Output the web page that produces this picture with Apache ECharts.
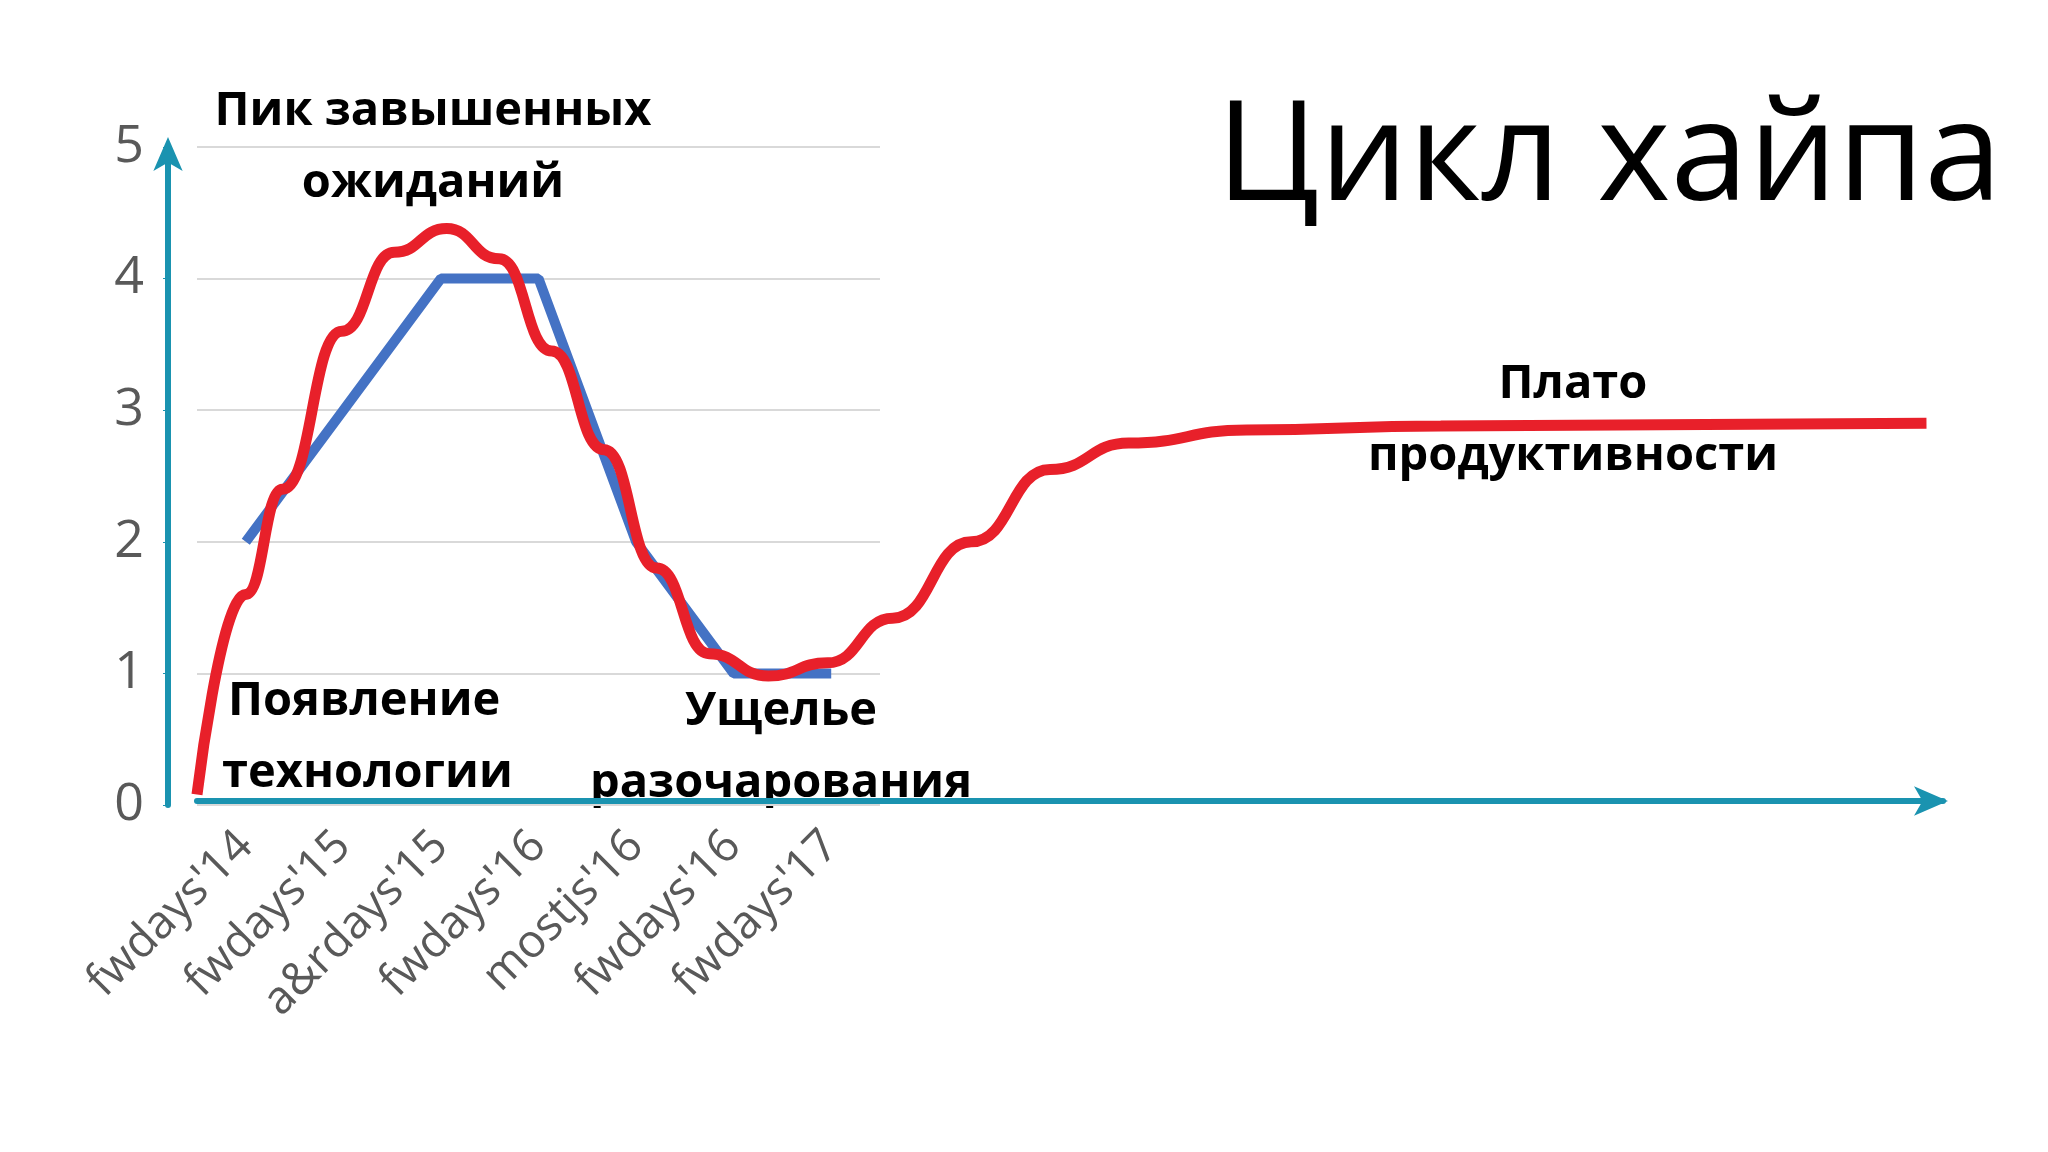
<!DOCTYPE html>
<html>
<head>
<meta charset="utf-8">
<script src="https://cdn.jsdelivr.net/npm/echarts@6/dist/echarts.min.js"></script>
<style>html,body{margin:0;background:#fff}#main{width:2048px;height:1152px}</style>
</head>
<body>
<div id="main"></div>
<script>
var categories = ["fwdays'14", "fwdays'15", "a&rdays'15", "fwdays'16", "mostjs'16", "fwdays'16", "fwdays'17"];
var talks = [2, 3, 4, 4, 2, 1, 1];
// кривая хайпа: x в единицах категорий
var hypeX = [-0.5, 0, 0.38, 0.99, 1.53, 2.07, 2.61, 3.15, 3.69, 4.23, 4.77, 5.38, 5.99, 6.66, 7.47, 8.28, 9.09, 10.3, 12.3, 17.3];
var hypeY = [0.08, 1.6, 2.4, 3.6, 4.2, 4.38, 4.15, 3.45, 2.7, 1.8, 1.15, 0.98, 1.08, 1.42, 2.0, 2.55, 2.75, 2.85, 2.88, 2.9];
var yTicks = [0, 1, 2, 3, 4, 5];

var hype = hypeX.map(function (x, i) { return [x, hypeY[i]]; });
var teal = '#1a93b0';
var txt = function (t, x, y, align, size) {
    return {type: 'text', x: x, y: y, style: {text: t, font: 'bold ' + (size || 47) + 'px "Open Sans", sans-serif', fill: '#000', textAlign: align || 'center', textVerticalAlign: 'middle'}};
};
var chart = echarts.init(document.getElementById('main'));
chart.setOption({
    animation: false,
    grid: [
        {left: 197, top: 147, width: 683, height: 658},
        {left: 197, top: 147, right: 105, height: 658}
    ],
    xAxis: [
        {type: 'category', gridIndex: 0, data: categories, boundaryGap: true,
            axisLine: {show: false}, axisTick: {show: false},
            axisLabel: {rotate: 45, color: '#595959', fontSize: 46, margin: 34, fontFamily: 'Open Sans'}},
        {type: 'value', gridIndex: 1, min: -0.5, max: 17.47, show: true,
            axisLine: {onZero: false, lineStyle: {color: teal, width: 6}, symbol: ['none', 'arrow'], symbolSize: [22, 34], symbolOffset: [0, 5]},
            axisTick: {show: false}, axisLabel: {show: false}, splitLine: {show: false}, offset: -4}
    ],
    yAxis: [
        {type: 'value', gridIndex: 0, min: 0, max: 5, interval: 1,
            axisLabel: {show: false}, axisLine: {show: false},
            splitLine: {lineStyle: {color: '#d9d9d9', width: 2}}},
        {type: 'value', gridIndex: 1, min: 0, max: 5, interval: 1, offset: 29,
            axisLine: {show: true, onZero: false, lineStyle: {color: teal, width: 6}, symbol: ['none', 'arrow'], symbolSize: [22, 34], symbolOffset: [0, 10]},
            axisLabel: {color: '#595959', fontSize: 52, margin: 24, fontFamily: 'Open Sans',
                formatter: function (v) { return yTicks.indexOf(v) >= 0 ? v : ''; }},
            splitLine: {show: false}}
    ],
    series: [
        {type: 'line', xAxisIndex: 0, yAxisIndex: 0, data: talks, symbol: 'none',
            lineStyle: {color: '#4472c4', width: 10}},
        {type: 'line', xAxisIndex: 1, yAxisIndex: 1, data: hype, smooth: true, smoothMonotone: 'x', symbol: 'none',
            lineStyle: {color: '#e8202a', width: 11}}
    ],
    graphic: [
        {type: 'text', x: 2002, y: 160, style: {text: 'Цикл хайпа', font: '140px "Open Sans", sans-serif', fill: '#000', textAlign: 'right', textVerticalAlign: 'middle'}},
        txt('Пик завышенных', 433, 112),
        txt('ожиданий', 433, 184),
        txt('Появление', 228, 702, 'left'),
        txt('технологии', 222, 774, 'left'),
        txt('Ущелье', 781, 712),
        txt('разочарования', 781, 784),
        txt('Плато', 1573, 385),
        txt('продуктивности', 1573, 457)
    ]
});
</script>
</body>
</html>
